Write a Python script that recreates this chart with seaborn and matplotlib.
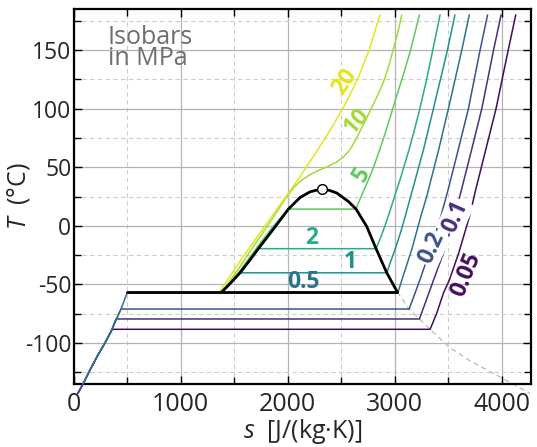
import numpy as np
import matplotlib
matplotlib.use("Agg")
import matplotlib.pyplot as plt
import seaborn as sns
from matplotlib.ticker import MultipleLocator

# isobar pressures in MPa
pressures = [0.05, 0.1, 0.2, 0.5, 1, 2, 5, 10, 20]
labels = ["0.05", "0.1", "0.2", "0.5", "1", "2", "5", "10", "20"]

# isobars: s in J/(kg K), T in degC
s_005 = [40, 92, 154, 230, 294, 362, 3332, 3394, 3456, 3512, 3600, 3700, 3758, 3852, 3948, 4062, 4132]
T_005 = [-143, -134.5, -123, -110, -100, -88.3, -88.3, -74.6, -57.5, -46.2, -23, 8, 30.8, 65, 100, 150, 180]

s_01 = [40, 92, 154, 230, 294, 357, 397, 3232, 3290, 3365, 3458, 3562, 3625, 3720, 3815, 3925, 3995]
T_01 = [-143, -134.5, -123, -110, -100, -88.9, -79.5, -79.5, -65, -46, -23, 8, 30.8, 65, 100, 150, 180]

s_02 = [40, 92, 154, 230, 294, 357, 397, 444, 3136, 3185, 3237, 3290, 3340, 3432, 3500, 3595, 3690, 3799, 3869]
T_02 = [-143, -134.5, -123, -110, -100, -88.9, -80.3, -71, -71, -59, -46, -32, -19, 8, 30.8, 65, 100, 150, 180]

s_05 = [92, 154, 230, 294, 357, 397, 444, 500, 3030, 3090, 3161, 3245, 3300, 3412, 3503, 3628, 3698]
T_05 = [-134.5, -123, -110, -100, -88.9, -80.3, -71, -57.3, -57.3, -40, -20, 8, 25, 65, 100, 150, 180]

s_1 = [1386, 1470, 1556, 2927, 2965, 3005, 3055, 3099, 3165, 3270, 3363, 3494, 3564]
T_1 = [-56.6, -48.6, -40.1, -40.1, -30, -20, -6, 8, 30, 65, 100, 150, 180]

s_2 = [1386, 1470, 1556, 1640, 1727, 2827, 2870, 2910, 2965, 3010, 3060, 3135, 3180, 3225, 3290, 3357, 3425]
T_2 = [-56.6, -48.6, -40.1, -30.2, -19.5, -19.5, -10, 0, 15, 28, 42, 65, 80, 96, 121, 150, 180]

s_5 = [1384, 1550, 1718, 1860, 2008, 2640, 2660, 2690, 2740, 2795, 2850, 2905, 2960, 3020, 3085, 3150, 3232]
T_5 = [-56.6, -39, -18, -1, 14.3, 14.3, 19, 25.5, 36, 48, 62, 77, 93, 111, 130, 150, 180]

s_10 = [1382, 1540, 1700, 1850, 1986, 2050, 2117, 2190, 2270, 2360, 2450, 2520, 2584, 2640, 2700,
        2771, 2840, 2893, 2945, 2986, 3030, 3067]
T_10 = [-56.6, -37, -15, 5, 24, 32, 38, 42.5, 46.5, 50, 54, 58.5, 65, 74, 85,
        98, 111, 122, 136, 150, 165, 180]

s_20 = [1362, 1550, 1750, 1930, 2117, 2290, 2420, 2540, 2659, 2762, 2864]
T_20 = [-56.6, -31, -5, 18, 42, 66, 85, 104, 126, 150, 180]

isobar_s = [s_005, s_01, s_02, s_05, s_1, s_2, s_5, s_10, s_20]
isobar_T = [T_005, T_01, T_02, T_05, T_1, T_2, T_5, T_10, T_20]

# saturation dome and triple line
dome_s = [1385, 1470, 1556, 1640, 1727, 1870, 2008, 2117, 2210, 2270, 2325, 2390, 2460, 2568, 2640, 2740, 2827, 2927, 3026]
dome_T = [-56.6, -48.6, -40.1, -30.2, -19.5, -2.5, 14.3, 24.2, 29.0, 30.4, 31.0, 30.3, 28.0, 20.8, 14.3, -0.6, -19.5, -40.1, -56.6]
triple_s = [503, 3026]
triple_T = [-56.6, -56.6]

# sublimation (vapour side) line
subl_s = [3026, 3136, 3232, 3332, 3503, 3700, 3986, 4266]
subl_T = [-56.6, -71, -79.5, -88.3, -103, -115, -129, -143]

# critical point
crit_s = [2325]
crit_T = [31.0]

# label anchors (s, T, rotation)
label_s = [3665, 3565, 3345, 2145, 2584, 2226, 2696, 2650, 2537]
label_T = [-42, 8, -19, -48, -30.5, -10, 44, 89, 123]
label_rot = [68, 66, 65, 0, 0, 0, 60, 48, 55]

sns.set_style("ticks")
plt.rcParams['font.family'] = ['Open Sans', 'DejaVu Sans']
plt.rcParams['mathtext.fontset'] = 'custom'
plt.rcParams['mathtext.it'] = 'Open Sans:italic'
plt.rcParams['mathtext.rm'] = 'Open Sans'
plt.rcParams['axes.unicode_minus'] = False

fig = plt.figure(figsize=(5.37, 4.47), dpi=100)
ax = fig.add_axes([0.1369, 0.1409, 0.852, 0.8389])

cmap = plt.get_cmap('viridis')
cpos = [0.03, 0.14, 0.25, 0.375, 0.5, 0.625, 0.75, 0.86, 0.96]
colors = [cmap(c) for c in cpos]

for s, T, c in zip(isobar_s, isobar_T, colors):
    sns.lineplot(x=s, y=T, color=c, lw=1.1, sort=False, estimator=None,
                 ax=ax, clip_on=False, zorder=3)

sns.lineplot(x=subl_s, y=subl_T, color='#b8b8b8', lw=0.9, sort=False, estimator=None,
             ax=ax, clip_on=False, zorder=2, linestyle=(0, (4, 3)))
sns.lineplot(x=dome_s, y=dome_T, color='black', lw=2.0, sort=False, estimator=None, ax=ax, zorder=4)
sns.lineplot(x=triple_s, y=triple_T, color='black', lw=2.0, sort=False, estimator=None, ax=ax, zorder=4)
ax.plot(crit_s, crit_T, 'o', mfc='white', mec='black', ms=7, mew=1.0, zorder=6)

for i, txt in enumerate(labels):
    kw = {}
    if txt in ("0.1", "0.2"):
        kw['bbox'] = dict(fc='white', ec='none', pad=1.0)
    ax.text(label_s[i], label_T[i], txt, color=colors[i], fontsize=16.5, fontweight='bold',
            rotation=label_rot[i], ha='center', va='center', rotation_mode='anchor',
            zorder=5, **kw)

ax.text(0.075, 0.957, "Isobars\nin MPa", transform=ax.transAxes, ha='left', va='top',
        fontsize=18, color='#6e6e6e', linespacing=0.8)

ax.set_xlim(0, 4275)
ax.set_ylim(-135, 185)
ax.xaxis.set_major_locator(MultipleLocator(1000))
ax.xaxis.set_minor_locator(MultipleLocator(500))
ax.yaxis.set_major_locator(MultipleLocator(50))
ax.yaxis.set_minor_locator(MultipleLocator(25))
ax.grid(which='major', color='#b4b4b4', lw=0.9, ls='-')
ax.grid(which='minor', color='#cdcdcd', lw=0.8, ls=(0, (4, 3)))
ax.set_axisbelow(True)

ax.tick_params(which='both', direction='in', top=True, right=True, width=1.0, color='black')
ax.tick_params(which='major', length=6)
ax.tick_params(which='minor', length=5)
ax.tick_params(axis='x', labelsize=18, pad=6)
ax.tick_params(axis='y', labelsize=16.5, pad=1.5)
for sp in ax.spines.values():
    sp.set_linewidth(1.6)
    sp.set_color('black')

ax.set_xlabel(r"$s$  [J/(kg·K)]", fontsize=18, labelpad=0)
ax.set_ylabel(r"$T$  (°C)", fontsize=18)
ax.yaxis.set_label_coords(-0.09, 0.5)

fig.savefig("out.png", dpi=100)
